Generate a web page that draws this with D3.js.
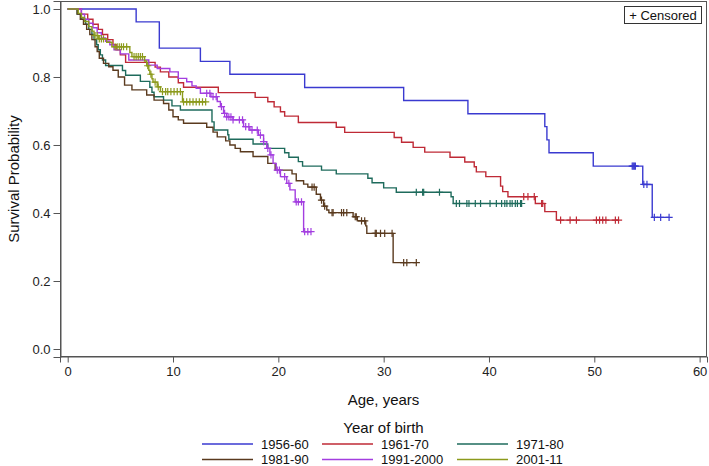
<!DOCTYPE html>
<html><head><meta charset="utf-8">
<script src="https://cdn.jsdelivr.net/npm/d3@7"></script>
<style>
html,body{margin:0;padding:0;background:#fff;}
svg{display:block;font-family:"Liberation Sans",Arial,sans-serif;}
</style></head>
<body>
<svg id="chart" width="709" height="466"></svg>
<script>
// ---- data ----
const groups = ["1956-60","1961-70","1971-80","1981-90","1991-2000","2001-11"];
const colors = ["#3a3ad0","#bf2a36","#1e6b5c","#5a3a1e","#a33ee0","#8c9a1c"];
const xTicks = [0,10,20,30,40,50,60];
const yTicks = [0.0,0.2,0.4,0.6,0.8,1.0];

const t1956 = [6.5,8.7,12.6,15.4,22.5,31.9,38.0,45.3,45.5,45.7,49.9,54.6,55.5];
const s1956 = [0.962,0.885,0.846,0.808,0.769,0.731,0.692,0.654,0.615,0.577,0.538,0.484,0.387];
const c1956 = [53.6,53.7,53.8,53.9,54.7,55.0,55.7,56.3,57.1];

const t1961 = [1.3,1.9,2.4,2.9,3.3,3.8,4.3,4.6,5.0,5.5,8.3,8.8,9.6,10.5,11.0,14.3,17.8,19.0,19.6,20.2,20.6,21.9,25.5,26.3,31.0,31.7,32.8,33.9,36.3,37.7,38.6,38.8,39.7,41.1,41.3,41.8,44.4,45.3,46.4];
const s1961 = [0.985,0.970,0.955,0.940,0.925,0.910,0.895,0.880,0.865,0.843,0.829,0.815,0.800,0.783,0.770,0.754,0.740,0.727,0.712,0.698,0.685,0.666,0.652,0.637,0.622,0.608,0.593,0.579,0.564,0.550,0.536,0.521,0.507,0.479,0.463,0.448,0.428,0.404,0.379];
const c1961 = [43.3,43.7,44.3,45.0,45.1,46.8,47.7,48.3,50.2,50.5,50.8,51.1,52.0,52.3];

const t1971 = [0.9,1.3,1.7,2.0,2.3,2.5,2.75,2.9,3.1,3.3,3.6,5.2,5.5,6.9,7.8,8.0,8.2,9.1,9.9,10.7,13.7,13.9,15.2,15.3,17.6,19.0,20.6,21.0,21.9,22.3,24.1,25.5,28.5,28.9,30.0,31.2,36.4,36.6];
const s1971 = [0.985,0.970,0.955,0.940,0.925,0.910,0.895,0.880,0.865,0.850,0.834,0.819,0.805,0.787,0.770,0.755,0.742,0.732,0.715,0.703,0.668,0.644,0.630,0.617,0.603,0.590,0.577,0.564,0.551,0.538,0.526,0.515,0.502,0.489,0.474,0.461,0.448,0.428];
const c1971 = [33.1,33.7,33.8,35.3,36.9,37.2,37.9,38.1,38.7,39.2,40.1,40.7,41.2,41.5,41.7,42.0,42.2,42.5,42.7,43.0,43.1];

const t1981 = [0.9,1.2,1.5,1.8,2.1,2.3,2.6,2.8,3.0,3.4,3.9,4.3,4.8,5.4,6.1,7.5,8.2,9.1,9.6,10.0,10.5,11.0,13.2,13.8,14.2,15.0,15.4,15.9,16.4,17.6,19.0,19.7,21.3,21.7,22.4,22.8,23.6,24.0,24.3,24.6,24.8,27.1,27.5,28.3,28.4,30.9];
const s1981 = [0.985,0.970,0.955,0.940,0.925,0.910,0.889,0.875,0.855,0.840,0.830,0.820,0.800,0.776,0.762,0.747,0.732,0.722,0.703,0.683,0.674,0.664,0.652,0.638,0.624,0.612,0.600,0.590,0.580,0.566,0.546,0.526,0.515,0.495,0.485,0.476,0.455,0.438,0.420,0.409,0.401,0.389,0.377,0.362,0.340,0.254];
const c1981 = [23.2,23.4,24.1,24.4,25.1,25.2,26.0,26.2,26.5,27.3,27.4,27.9,28.2,29.2,29.3,29.7,30.1,30.8,31.9,32.2,33.1];

const t1991 = [1.3,1.6,2.0,2.4,2.8,3.2,3.6,4.0,4.4,5.0,5.8,7.7,8.5,9.7,10.5,11.3,11.8,12.2,12.6,13.6,14.2,14.5,14.8,15.1,15.7,16.7,17.3,18.1,18.6,18.9,19.2,19.5,19.8,20.2,20.8,21.1,21.6,22.4];
const s1991 = [0.985,0.970,0.958,0.945,0.930,0.915,0.905,0.895,0.880,0.868,0.850,0.835,0.825,0.815,0.796,0.786,0.774,0.767,0.752,0.742,0.728,0.713,0.693,0.683,0.674,0.654,0.644,0.629,0.610,0.590,0.571,0.546,0.526,0.507,0.487,0.468,0.433,0.345];
const c1991 = [13.2,13.5,13.8,14.1,14.6,14.9,15.1,15.3,15.5,15.7,16.3,16.6,16.9,17.2,17.5,18.0,18.3,18.6,19.0,19.3,19.9,20.1,20.6,21.0,21.7,21.9,22.2,22.5,22.8,23.1];

const t2001 = [1.0,1.3,1.6,2.0,2.3,2.5,2.9,3.7,4.2,5.9,6.1,7.3,7.5,7.7,7.8,8.0,8.1,8.5,8.8,10.9];
const s2001 = [0.987,0.975,0.963,0.948,0.935,0.922,0.912,0.902,0.889,0.872,0.860,0.847,0.833,0.820,0.808,0.795,0.785,0.771,0.757,0.727];
const c2001 = [2.6,2.8,3.0,3.2,3.4,4.5,4.7,4.9,5.1,5.3,5.6,6.3,6.5,6.7,6.9,7.1,7.6,7.9,8.3,8.6,9.0,9.3,9.5,9.8,10.1,10.4,10.7,11.0,11.3,11.6,11.9,12.2,12.5,12.8,13.1];

const times = [t1956,t1961,t1971,t1981,t1991,t2001];
const survs = [s1956,s1961,s1971,s1981,s1991,s2001];
const censors = [c1956,c1961,c1971,c1981,c1991,c2001];

// ---- layout ----
const svg = d3.select("#chart");
const L = 60, R = 707, T = 1, B = 357;
const x = d3.scaleLinear().domain([-0.73, 60.7]).range([L, R]);
const y = d3.scaleLinear().domain([-0.0235, 1.0235]).range([B, T]);

// frame
svg.append("rect").attr("x", L+0.5).attr("y", T+0.5).attr("width", R-L-1).attr("height", B-T-1)
  .attr("fill","none").attr("stroke","#555").attr("stroke-width",1);

// axes
const yAxis = d3.axisLeft(y).tickValues(yTicks).tickFormat(d3.format(".1f")).tickSize(7).tickPadding(3);
const gy = svg.append("g").attr("transform",`translate(${L+0.5},0)`).call(yAxis);
const xAxis = d3.axisBottom(x).tickValues(xTicks).tickFormat(d3.format("d")).tickSize(6).tickPadding(4);
const gx = svg.append("g").attr("transform",`translate(0,${B-0.5})`).call(xAxis);
[gx, gy].forEach(g => {
  g.select(".domain").attr("stroke","#555");
  g.selectAll(".tick line").attr("stroke","#555");
  g.selectAll("text").attr("fill","#222").style("font-size","13px").style("font-family","'Liberation Sans',Arial,sans-serif");
});

// curves
function survAt(ts, ss, t) {
  let v = 1;
  for (let i = 0; i < ts.length; i++) { if (ts[i] <= t) v = ss[i]; }
  return v;
}
const line = d3.line().x(d => x(d[0])).y(d => y(d[1])).curve(d3.curveStepAfter);
const plot = svg.append("g");
groups.forEach((g, i) => {
  const ts = times[i], ss = survs[i], cs = censors[i];
  const end = Math.max(ts[ts.length-1], cs.length ? cs[cs.length-1] : 0);
  const pts = [[0,1]];
  ts.forEach((t, j) => pts.push([t, ss[j]]));
  pts.push([end, ss[ss.length-1]]);
  plot.append("path").attr("d", line(pts)).attr("fill","none")
    .attr("stroke", colors[i]).attr("stroke-width",1.4);
  const h = 3.6;
  cs.forEach(c => {
    const cx = x(c), cy = y(survAt(ts, ss, c));
    plot.append("path").attr("d", `M${cx-h},${cy}H${cx+h}M${cx},${cy-h}V${cy+h}`)
      .attr("stroke", colors[i]).attr("stroke-width",1.2).attr("fill","none");
  });
});

// censored legend box
svg.append("rect").attr("x",624.5).attr("y",6.5).attr("width",77).attr("height",17)
  .attr("fill","#fff").attr("stroke","#333").attr("stroke-width",1);
svg.append("text").attr("x",663).attr("y",19.5).attr("text-anchor","middle")
  .style("font-size","13px").attr("fill","#111").text("+ Censored");

// axis titles
svg.append("text").attr("transform",`translate(19,${(T+B)/2}) rotate(-90)`).attr("text-anchor","middle")
  .style("font-size","15px").attr("fill","#111").text("Survival Probability");
svg.append("text").attr("x",(L+R)/2).attr("y",405).attr("text-anchor","middle")
  .style("font-size","15px").attr("fill","#111").text("Age, years");
svg.append("text").attr("x",(L+R)/2).attr("y",433).attr("text-anchor","middle")
  .style("font-size","15px").attr("fill","#111").text("Year of birth");

// legend
const colX = [202, 322, 457];
const rowY = [444, 459.5];
groups.forEach((g, i) => {
  const cx = colX[i % 3], cy = rowY[Math.floor(i / 3)];
  svg.append("line").attr("x1",cx).attr("x2",cx+51).attr("y1",cy).attr("y2",cy)
    .attr("stroke",colors[i]).attr("stroke-width",1.4);
  svg.append("text").attr("x",cx+59).attr("y",cy+4.5).style("font-size","13px")
    .attr("fill","#111").text(g);
});
</script>
</body></html>
